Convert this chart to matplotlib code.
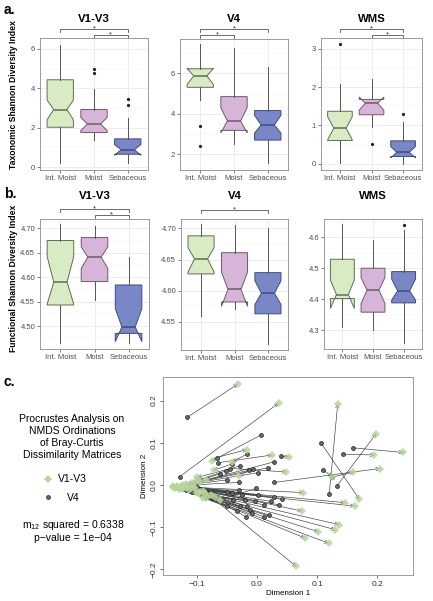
import matplotlib
matplotlib.use("Agg")
import matplotlib.pyplot as plt
import matplotlib.transforms as mtransforms
from matplotlib.ticker import AutoMinorLocator, FixedLocator

plt.rcParams["font.family"] = ["Liberation Sans", "DejaVu Sans"]

W, H = 433, 601

groups = ["Int. Moist", "Moist", "Sebaceous"]
fills = ["#d8ebc4", "#d6b5d8", "#7a87c6"]
edges = ["#5f6e55", "#6e5a70", "#3f4b80"]

# box statistics: whislo, q1, cilo, med, cihi, q3, whishi
tax_v13 = {"whislo": [0.18, 1.38, 0.22], "q1": [2.02, 1.75, 0.65], "cilo": [2.40, 1.85, 0.60],
           "med": [2.92, 2.18, 0.88], "cihi": [3.40, 2.52, 1.14], "q3": [4.43, 2.92, 1.43],
           "whishi": [6.20, 3.95, 2.47], "fliers": [[], [4.75, 5.0], [3.13, 3.47]]}
tax_v4 = {"whislo": [4.68, 2.50, 1.55], "q1": [5.31, 3.18, 2.70], "cilo": [5.45, 3.05, 3.05],
          "med": [5.87, 3.65, 3.45], "cihi": [6.25, 4.30, 3.92], "q3": [6.23, 4.85, 4.16],
          "whishi": [7.45, 7.27, 6.33], "fliers": [[3.40, 2.43], [], []]}
tax_wms = {"whislo": [0.03, 0.97, 0.0], "q1": [0.61, 1.28, 0.19], "cilo": [0.63, 1.40, 0.16],
           "med": [0.93, 1.58, 0.30], "cihi": [1.23, 1.74, 0.45], "q3": [1.37, 1.68, 0.60],
           "whishi": [2.08, 2.22, 1.10], "fliers": [[3.12], [0.52], [1.30]]}
func_v13 = {"whislo": [4.465, 4.553, 4.465], "q1": [4.543, 4.591, 4.485], "cilo": [4.545, 4.618, 4.468],
            "med": [4.590, 4.641, 4.498], "cihi": [4.642, 4.662, 4.536], "q3": [4.675, 4.681, 4.584],
            "whishi": [4.709, 4.705, 4.641], "fliers": [[], [], []]}
func_v4 = {"whislo": [4.560, 4.570, 4.515], "q1": [4.627, 4.582, 4.563], "cilo": [4.630, 4.575, 4.578],
           "med": [4.651, 4.602, 4.596], "cihi": [4.669, 4.630, 4.616], "q3": [4.688, 4.661, 4.629],
           "whishi": [4.707, 4.705, 4.700], "fliers": [[], [], []]}
func_wms = {"whislo": [4.311, 4.300, 4.257], "q1": [4.402, 4.358, 4.388], "cilo": [4.370, 4.386, 4.397],
            "med": [4.415, 4.429, 4.427], "cihi": [4.462, 4.470, 4.465], "q3": [4.529, 4.500, 4.489],
            "whishi": [4.643, 4.591, 4.624], "fliers": [[], [], [4.640]]}

# significance brackets (group i, group j)
sig_tax_v13 = [(1, 3), (2, 3)]
sig_tax_v4 = [(1, 3), (1, 2)]
sig_tax_wms = [(1, 3), (2, 3)]
sig_func_v13 = [(1, 3), (2, 3)]
sig_func_v4 = [(1, 3)]
sig_func_wms = []

# Procrustes: V4 points (arrow tails) and V1-V3 points (arrow heads)
v4_x = [-0.116, -0.128, 0.120, 0.106, 0.133, 0.160, 0.142, 0.029, 0.124, 0.110,
        -0.135, -0.130, -0.125, -0.120, -0.118, -0.112, -0.108, -0.083, -0.100, -0.095,
        -0.067, -0.064, 0.040, -0.044, -0.017, 0.006, -0.041, -0.028, -0.014, -0.006,
        0.001, 0.019, 0.029, -0.050, -0.030, -0.062, -0.052,
        -0.050, -0.041, -0.030, -0.025, -0.020, -0.017, -0.029, -0.019, -0.011, -0.003,
        -0.001, 0.001, 0.011, 0.011, 0.020, 0.023, 0.029, 0.036, 0.041, -0.049,
        -0.039, -0.008, -0.033, -0.075, -0.070]
v4_y = [0.160, 0.020, -0.021, 0.100, -0.002, 0.088, 0.073, 0.006, 0.018, 0.035,
        -0.004, -0.006, -0.008, -0.010, -0.012, -0.014, -0.016, -0.020, -0.006, -0.010,
        0.065, 0.053, 0.068, 0.039, 0.073, 0.118, 0.050, 0.045, 0.035, 0.037,
        0.029, 0.041, 0.055, 0.012, 0.006, 0.026, 0.033,
        -0.016, -0.018, -0.013, -0.024, -0.035, -0.051, -0.051, -0.075, -0.059, -0.039,
        -0.008, -0.024, -0.047, -0.075, -0.071, -0.039, -0.029, -0.047, -0.034, -0.051,
        -0.035, -0.067, -0.061, -0.030, -0.025]
v13_x = [-0.032, 0.036, 0.134, 0.170, 0.198, 0.243, 0.195, 0.204, 0.160, 0.125,
         0.146, 0.162, 0.136, 0.130, 0.119, 0.102, 0.080, 0.065, 0.077, 0.075,
         -0.017, 0.025, 0.053, 0.049, -0.041, -0.075, -0.072, -0.099, -0.030, -0.108,
         -0.122, -0.094, -0.085, -0.139, -0.133, -0.117, -0.102,
         -0.139, -0.133, -0.124, -0.117, -0.110, -0.102, -0.094, -0.086, -0.077, -0.069,
         -0.061, -0.122, -0.113, -0.097, -0.083, -0.128, -0.105, -0.090, -0.115, -0.140,
         -0.136, -0.100, -0.090, -0.130, -0.125]
v13_y = [0.239, 0.194, 0.192, -0.034, 0.122, 0.077, 0.071, 0.039, 0.031, 0.020,
         -0.042, -0.050, -0.094, -0.106, -0.138, -0.111, -0.126, -0.193, -0.018, -0.062,
         0.084, 0.071, 0.066, 0.031, 0.055, 0.057, 0.035, 0.018, 0.021, 0.004,
         0.000, 0.008, 0.012, -0.004, -0.002, 0.002, 0.010,
         -0.006, -0.006, -0.008, -0.006, -0.008, -0.012, -0.016, -0.020, -0.024, -0.028,
         -0.035, -0.010, -0.012, -0.020, -0.028, -0.004, -0.004, -0.014, -0.002, -0.003,
         -0.008, -0.018, -0.030, -0.010, -0.002]

fig = plt.figure(figsize=(W / 100, H / 100), dpi=100)


def px_box(l, t, r, b):
    return [l / W, 1 - b / H, (r - l) / W, (b - t) / H]


def box_panel(rect, stats, ylim, yticks, ylabels, title, title_y, sigs, sig_y):
    ax = fig.add_axes(px_box(*rect))
    bstats = []
    for i in range(3):
        bstats.append({"whislo": stats["whislo"][i], "q1": stats["q1"][i], "med": stats["med"][i],
                       "q3": stats["q3"][i], "whishi": stats["whishi"][i], "cilo": stats["cilo"][i],
                       "cihi": stats["cihi"][i], "fliers": stats["fliers"][i]})
    bp = ax.bxp(bstats, positions=[1, 2, 3], widths=0.78, shownotches=True, patch_artist=True,
                showcaps=False, zorder=3,
                whiskerprops=dict(color="#555555", lw=0.7),
                flierprops=dict(marker="o", markersize=1.3, markerfacecolor="#222222",
                                markeredgecolor="#222222"))
    for i, patch in enumerate(bp["boxes"]):
        patch.set_facecolor(fills[i])
        patch.set_edgecolor(edges[i])
        patch.set_linewidth(0.7)
    for i, m in enumerate(bp["medians"]):
        m.set_color(edges[i])
        m.set_linewidth(1.1)
    ax.set_xlim(0.4, 3.6)
    ax.set_ylim(*ylim)
    ax.set_yticks(yticks)
    ax.set_yticklabels(ylabels)
    ax.set_xticks([1, 2, 3])
    ax.set_xticklabels(groups)
    ax.yaxis.set_minor_locator(AutoMinorLocator(2))
    ax.grid(which="major", color="#e6e6e6", lw=0.5, zorder=0)
    ax.grid(which="minor", axis="y", color="#f2f2f2", lw=0.35, zorder=0)
    ax.set_axisbelow(True)
    ax.tick_params(labelsize=5.5, colors="#4d4d4d", length=2, width=0.5, pad=1.5)
    ax.tick_params(which="minor", length=0)
    for s in ax.spines.values():
        s.set_color("#8c8c8c")
        s.set_linewidth(0.6)
    fig.text((rect[0] + rect[2]) / 2 / W, 1 - title_y / H, title, ha="center", va="center",
             fontsize=8.2, fontweight="bold")
    tr = mtransforms.blended_transform_factory(ax.transData, fig.transFigure)
    for k, (i, j) in enumerate(sigs):
        yb = sig_y[k]
        y0 = 1 - yb / H
        y1 = 1 - (yb + 3) / H
        ax.plot([i, i, j, j], [y1, y0, y0, y1], transform=tr, color="#555555", lw=0.6,
                clip_on=False)
        ax.text((i + j) / 2, 1 - (yb + 1) / H, "*", transform=tr, ha="center", va="baseline",
                fontsize=5.5, color="#333333")
    return ax


# panel a
box_panel((40, 38, 148, 170), tax_v13, (-0.15, 6.55), [0, 2, 4, 6], ["0", "2", "4", "6"],
          "V1-V3", 19, sig_tax_v13, [29, 35])
box_panel((180, 39, 288, 170), tax_v4, (1.22, 7.7), [2, 4, 6], ["2", "4", "6"],
          "V4", 19, sig_tax_v4, [29, 35])
box_panel((321, 38, 422, 170), tax_wms, (-0.16, 3.28), [0, 1, 2, 3], ["0", "1", "2", "3"],
          "WMS", 19, sig_tax_wms, [29, 35])

# panel b
box_panel((40, 219, 149, 349), func_v13, (4.453, 4.719), [4.50, 4.55, 4.60, 4.65, 4.70],
          ["4.50", "4.55", "4.60", "4.65", "4.70"], "V1-V3", 196, sig_func_v13, [209, 215])
box_panel((181, 219, 288, 350), func_v4, (4.505, 4.715), [4.55, 4.60, 4.65, 4.70],
          ["4.55", "4.60", "4.65", "4.70"], "V4", 196, sig_func_v4, [210])
box_panel((324, 219, 422, 349), func_wms, (4.239, 4.659), [4.3, 4.4, 4.5, 4.6],
          ["4.3", "4.4", "4.5", "4.6"], "WMS", 196, sig_func_wms, [])

fig.text(14 / W, 1 - 95 / H, "Taxonomic Shannon Diversity Index", rotation=90, ha="center",
         va="center", fontsize=6.2, fontweight="bold")
fig.text(14 / W, 1 - 278 / H, "Functional Shannon Diversity Index", rotation=90, ha="center",
         va="center", fontsize=6.2, fontweight="bold")
fig.text(4 / W, 1 - 10 / H, "a.", fontsize=10, fontweight="bold", va="center")
fig.text(4 / W, 1 - 194 / H, "b.", fontsize=10, fontweight="bold", va="center")
fig.text(4 / W, 1 - 382 / H, "c.", fontsize=10, fontweight="bold", va="center")

# panel c
axc = fig.add_axes(px_box(163, 377, 413, 575))
for i in range(len(v4_x)):
    axc.annotate("", xy=(v13_x[i], v13_y[i]), xytext=(v4_x[i], v4_y[i]),
                 arrowprops=dict(arrowstyle="->", lw=0.45, color="#3a3a3a",
                                 shrinkA=0, shrinkB=0, mutation_scale=6), zorder=2)
axc.plot(v4_x, v4_y, "o", markersize=2.8, markerfacecolor="#6a6a6a",
         markeredgecolor="#1a1a1a", markeredgewidth=0.5, zorder=3)
axc.plot(v13_x, v13_y, "D", markersize=3.6, color="#b6d69e", alpha=0.85,
         markeredgewidth=0, zorder=4)
axc.set_xlim(-0.156, 0.259)
axc.set_ylim(-0.2135, 0.256)
axc.xaxis.set_major_locator(FixedLocator([-0.1, 0.0, 0.1, 0.2]))
axc.yaxis.set_major_locator(FixedLocator([-0.2, -0.1, 0.0, 0.1, 0.2]))
axc.set_xticklabels(["\u22120.1", "0.0", "0.1", "0.2"])
axc.set_yticklabels(["\u22120.2", "\u22120.1", "0.0", "0.1", "0.2"], rotation=90, va="center")
axc.tick_params(labelsize=6, colors="#333333", length=2.5, width=0.5, pad=1.5)
for s in axc.spines.values():
    s.set_color("#8c8c8c")
    s.set_linewidth(0.6)
axc.set_xlabel("Dimension 1", fontsize=5.8, labelpad=2)
axc.set_ylabel("Dimension 2", fontsize=5.8, labelpad=2)

fig.text(72 / W, 1 - 437 / H,
         "Procrustes Analysis on\nNMDS Ordinations\nof Bray-Curtis\nDissimilarity Matrices",
         ha="center", va="center", fontsize=7.5, linespacing=1.25)
fig.lines.append(plt.Line2D([48 / W], [1 - 479 / H], marker="D", markersize=4, color="#b6d69e",
                            markeredgewidth=0, transform=fig.transFigure))
fig.lines.append(plt.Line2D([48 / W], [1 - 497 / H], marker="o", markersize=2.8,
                            markerfacecolor="#6a6a6a", markeredgecolor="#1a1a1a",
                            markeredgewidth=0.5, transform=fig.transFigure))
fig.text(58 / W, 1 - 479 / H, "V1-V3", fontsize=7.5, va="center")
fig.text(67 / W, 1 - 498 / H, "V4", fontsize=7.5, va="center")
fig.text(73 / W, 1 - 525 / H, r"m$_{\mathregular{12}}$ squared = 0.6338", ha="center",
         va="center", fontsize=7.5)
fig.text(73 / W, 1 - 538 / H, "p\u2212value = 1e\u221204", ha="center", va="center", fontsize=7.5)

fig.savefig("out.png", dpi=100)
